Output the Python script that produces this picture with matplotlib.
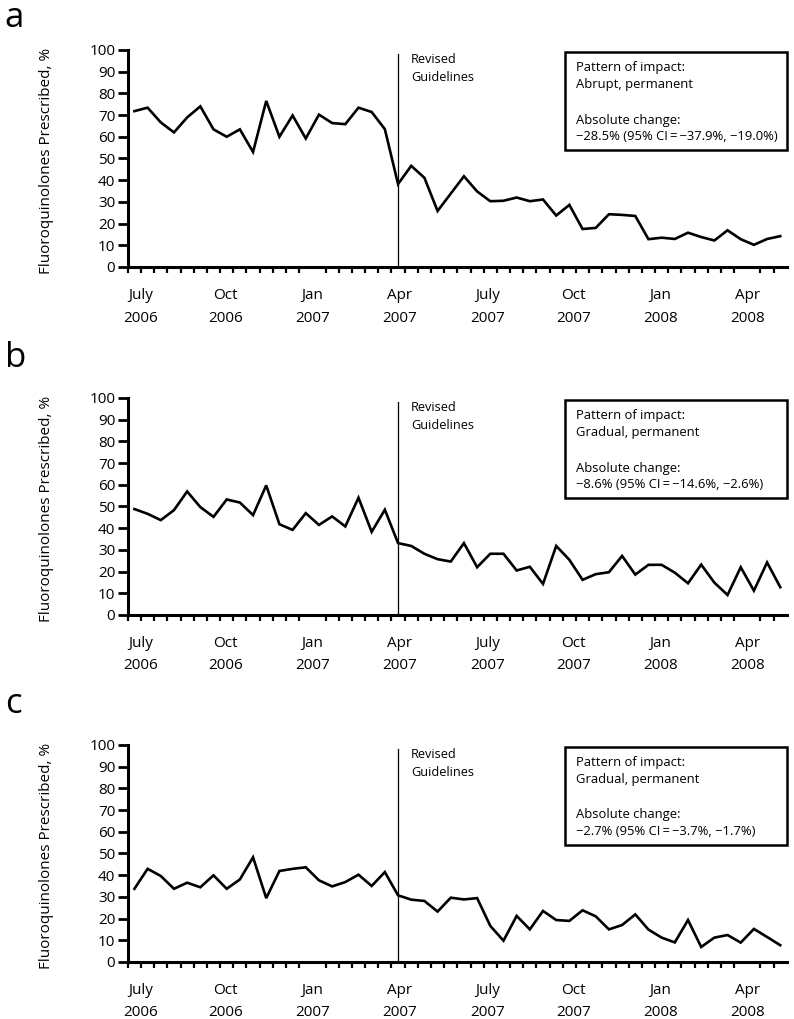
# fluoroquinolone prescribing, three panels with a guideline change marker
import matplotlib
matplotlib.use('Agg')
import matplotlib.pyplot as plt
from matplotlib.patches import Rectangle
import numpy as np

plt.rcParams['font.family'] = ['Open Sans', 'DejaVu Sans']

# biweekly values, July 2006 to May 2008 (50 periods)
panelA = [71.8, 73.4, 66.6, 62.0, 68.9, 74.0, 63.4, 60.0, 63.4, 53.0,
          76.5, 60.0, 69.8, 59.2, 70.2, 66.3, 65.8, 73.4, 71.4, 63.5,
          38.2, 46.6, 41.1, 25.8, 33.8, 41.8, 34.8, 30.3, 30.5, 32.0,
          30.3, 31.1, 23.7, 28.6, 17.5, 18.0, 24.3, 24.0, 23.5, 12.8,
          13.5, 12.9, 15.8, 13.8, 12.2, 16.9, 12.8, 10.2, 12.9, 14.2]
panelB = [48.8, 46.6, 43.7, 48.3, 56.9, 49.7, 45.2, 53.2, 51.8, 46.0,
          59.7, 41.8, 39.2, 46.9, 41.5, 45.4, 40.8, 54.0, 38.3, 48.5,
          33.1, 31.8, 28.2, 25.7, 24.6, 33.1, 22.0, 28.2, 28.2, 20.5,
          22.2, 14.3, 31.8, 25.4, 16.2, 18.8, 19.7, 27.2, 18.6, 23.1,
          23.1, 19.5, 14.6, 23.2, 14.9, 9.2, 22.0, 11.2, 24.2, 12.8]
panelC = [33.7, 42.9, 39.6, 33.7, 36.5, 34.4, 39.9, 33.7, 38.0, 48.2,
          29.4, 41.9, 42.9, 43.6, 37.6, 34.8, 36.8, 40.2, 35.0, 41.4,
          30.7, 28.7, 28.1, 23.2, 29.6, 28.8, 29.4, 16.6, 9.8, 21.2,
          15.0, 23.5, 19.3, 18.9, 23.8, 21.0, 15.0, 17.0, 21.9, 14.9,
          11.2, 9.0, 19.3, 6.9, 11.2, 12.4, 8.9, 15.2, 11.5, 7.7]

monthLabels = ['July\n2006', 'Oct\n2006', 'Jan\n2007', 'Apr\n2007',
               'July\n2007', 'Oct\n2007', 'Jan\n2008', 'Apr\n2008']
monthPos = [0.45, 6.9, 13.5, 20.1, 26.8, 33.3, 39.9, 46.5]
guidelineIdx = 20

patterns = ['Abrupt, permanent', 'Gradual, permanent', 'Gradual, permanent']
changes = ['\u221228.5% (95% CI\u2009=\u2009\u221237.9%, \u221219.0%)',
           '\u22128.6% (95% CI\u2009=\u2009\u221214.6%, \u22122.6%)',
           '\u22122.7% (95% CI\u2009=\u2009\u22123.7%, \u22121.7%)']
letters = ['a', 'b', 'c']
letterY = [0.9735, 0.6398, 0.3003]
series = [panelA, panelB, panelC]

fig = plt.figure(figsize=(7.94, 10.19), dpi=100)
bottoms = [0.738, 0.3965, 0.056]

for i in range(3):
    ax = fig.add_axes([0.161, bottoms[i], 0.830, 0.213])
    x = np.arange(len(series[i]))
    ax.plot(x, series[i], color='black', lw=1.9, solid_joinstyle='miter')
    ax.plot([guidelineIdx, guidelineIdx], [0, 98], color='black', lw=0.9)
    ax.text(guidelineIdx + 1.0, 95.5, 'Revised', fontsize=9.2, va='center')
    ax.text(guidelineIdx + 1.0, 87.5, 'Guidelines', fontsize=9.2, va='center')

    # annotation box
    ax.add_patch(Rectangle((0.663, 0.54), 0.337, 0.45, transform=ax.transAxes,
                           fill=False, lw=1.8, ec='black', clip_on=False))
    tr = ax.get_yaxis_transform()
    ax.text(0.68, 91.7, 'Pattern of impact:', fontsize=9.4, va='center', transform=tr)
    ax.text(0.68, 83.9, patterns[i], fontsize=9.4, va='center', transform=tr)
    ax.text(0.68, 67.7, 'Absolute change:', fontsize=9.4, va='center', transform=tr)
    ax.text(0.68, 59.9, changes[i], fontsize=9.4, va='center', transform=tr)

    ax.set_xlim(-0.5, 49.5)
    ax.set_ylim(0, 100)
    ax.set_yticks(range(0, 101, 10))
    ax.set_xticks(monthPos)
    ax.set_xticklabels(monthLabels, fontsize=11, linespacing=1.7)
    ax.set_xticks(np.arange(-0.5, 49, 1), minor=True)
    ax.tick_params(axis='x', which='major', length=0, pad=15)
    ax.tick_params(axis='x', which='minor', length=4, width=1.6, direction='out')
    ax.tick_params(axis='y', length=7, width=2, labelsize=11, pad=2)
    ax.spines['top'].set_visible(False)
    ax.spines['right'].set_visible(False)
    ax.spines['left'].set_linewidth(2.2)
    ax.spines['bottom'].set_linewidth(2.2)
    ax.set_ylabel('Fluoroquinolones Prescribed, %', fontsize=11)
    ax.yaxis.set_label_coords(-0.112, 0.49)

    fig.text(0.006, letterY[i], letters[i], fontsize=25, va='baseline', ha='left')

fig.savefig('out.png', dpi=100)
